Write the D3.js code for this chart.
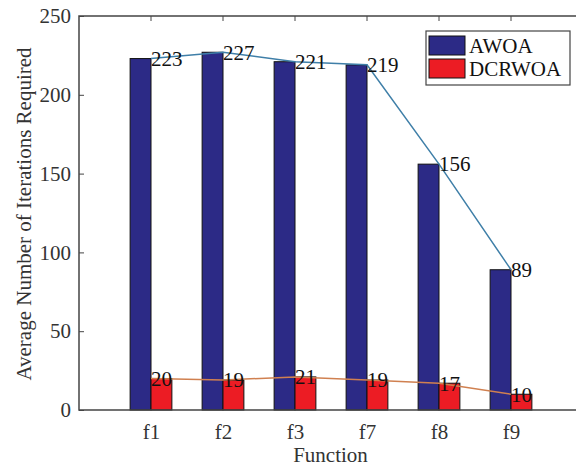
<!DOCTYPE html>
<html>
<head>
<meta charset="utf-8">
<script src="https://cdn.jsdelivr.net/npm/d3@7"></script>
<style>
  body { margin: 0; background: #fff; }
  svg { display: block; font-family: "Liberation Serif", "Times New Roman", serif; }
</style>
</head>
<body>
<svg id="chart" width="576" height="468"></svg>
<script>
// chart values
var categories = ['f1', 'f2', 'f3', 'f7', 'f8', 'f9'];
var awoa = [223, 227, 221, 219, 156, 89];
var dcrwoa = [20, 19, 21, 19, 17, 10];
var yTicks = [0, 50, 100, 150, 200, 250];
var seriesNames = ['AWOA', 'DCRWOA'];

(function () {
    var svg = d3.select('#chart');
    // note: plain "top" would clash with window.top
    var plotL = 79, plotR = 583, plotT = 16, plotB = 410;

    // MATLAB style: categories sit at 1..6, xlim [0, 7]
    var x = d3.scaleLinear().domain([0, 7]).range([plotL, plotR]);
    var y = d3.scaleLinear().domain([0, 250]).range([plotB, plotT]);
    var barW = x(0.29) - x(0);

    var barColors = ['#2c2a86', '#ec1c24'];
    var lineColors = ['#3f7fa8', '#d08050'];

    // bars
    var g = svg.append('g');
    [awoa, dcrwoa].forEach(function (vals, s) {
        g.selectAll('rect.s' + s)
            .data(vals)
            .enter().append('rect')
            .attr('class', 's' + s)
            .attr('x', function (d, i) { return x(i + 1) + (s === 0 ? -barW : 0); })
            .attr('y', function (d) { return y(d); })
            .attr('width', barW)
            .attr('height', function (d) { return y(0) - y(d); })
            .attr('fill', barColors[s])
            .attr('stroke', '#111')
            .attr('stroke-width', 1);
    });

    // trend lines through group centres
    var line = d3.line()
        .x(function (d, i) { return x(i + 1); })
        .y(function (d) { return y(d); });
    [awoa, dcrwoa].forEach(function (vals, s) {
        svg.append('path')
            .datum(vals)
            .attr('d', line)
            .attr('fill', 'none')
            .attr('stroke', lineColors[s])
            .attr('stroke-width', 1.5);
    });

    // value labels
    [awoa, dcrwoa].forEach(function (vals, s) {
        svg.selectAll('text.v' + s)
            .data(vals)
            .enter().append('text')
            .attr('class', 'v' + s)
            .attr('x', function (d, i) { return x(i + 1); })
            .attr('y', function (d) { return y(d); })
            .attr('dy', '0.35em')
            .attr('font-size', 21)
            .attr('fill', '#111')
            .text(function (d) { return d; });
    });

    // axes
    var axisColor = '#444';
    var yAxis = d3.axisLeft(y).tickValues(yTicks).tickSize(-5).tickPadding(8);
    var ya = svg.append('g').attr('transform', 'translate(' + plotL + ',0)').call(yAxis);
    ya.select('.domain').remove();
    ya.selectAll('line').attr('stroke', axisColor);
    ya.selectAll('text').attr('font-size', 21).attr('fill', '#333')
        .attr('font-family', '"Liberation Serif", serif');

    var xAxis = d3.axisBottom(x).tickValues(d3.range(1, 7))
        .tickFormat(function (d) { return categories[d - 1]; })
        .tickSize(0).tickPadding(14);
    var xa = svg.append('g').attr('transform', 'translate(0,' + plotB + ')').call(xAxis);
    xa.select('.domain').remove();
    xa.selectAll('text').attr('font-size', 21).attr('fill', '#333')
        .attr('font-family', '"Liberation Serif", serif');

    // top ticks
    svg.selectAll('line.tt')
        .data(d3.range(1, 7))
        .enter().append('line')
        .attr('x1', function (d) { return x(d); })
        .attr('x2', function (d) { return x(d); })
        .attr('y1', plotT).attr('y2', plotT + 5)
        .attr('stroke', axisColor);

    // frame
    svg.append('path')
        .attr('d', 'M' + plotR + ',' + plotT + 'H' + plotL + 'V' + plotB + 'H' + plotR)
        .attr('fill', 'none')
        .attr('stroke', axisColor)
        .attr('stroke-width', 1.5);

    // axis titles
    svg.append('text')
        .attr('x', (plotL + 576) / 2 + 3)
        .attr('y', 462)
        .attr('text-anchor', 'middle')
        .attr('font-size', 21)
        .attr('fill', '#333')
        .text('Function');

    svg.append('text')
        .attr('transform', 'translate(31,214) rotate(-90)')
        .attr('text-anchor', 'middle')
        .attr('font-size', 21)
        .attr('fill', '#333')
        .text('Average Number of Iterations Required');

    // legend
    var lg = svg.append('g').attr('transform', 'translate(426,31)');
    lg.append('rect')
        .attr('width', 144).attr('height', 54)
        .attr('fill', '#fff').attr('stroke', '#444').attr('stroke-width', 1.2);
    seriesNames.forEach(function (name, i) {
        lg.append('rect')
            .attr('x', 3).attr('y', 5 + i * 23)
            .attr('width', 36).attr('height', 19)
            .attr('fill', barColors[i]).attr('stroke', '#111');
        lg.append('text')
            .attr('x', 43).attr('y', 14.5 + i * 23)
            .attr('dy', '0.35em')
            .attr('font-size', 21)
            .attr('fill', '#111')
            .text(name);
    });
})();
</script>
</body>
</html>
